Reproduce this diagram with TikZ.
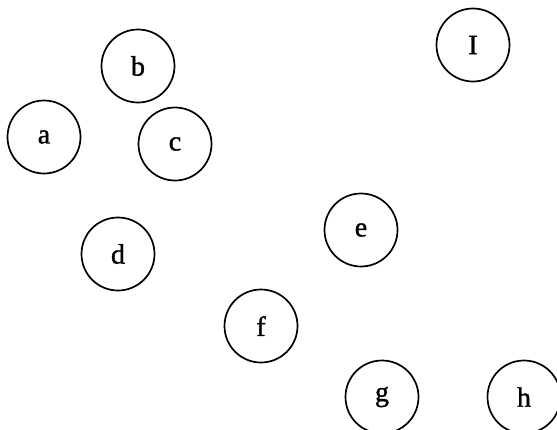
\documentclass[tikz,border=0pt]{standalone}
\usepackage{fontspec}
\setmainfont{Liberation Serif}
\newfontfamily\lblfont[FakeBold=1.2]{Liberation Serif}
\begin{document}
\begin{tikzpicture}[x=1pt,y=-1pt,
  vtx/.style={circle,draw=black,line width=1.7pt,minimum size=73pt,inner sep=0pt,
    font=\lblfont\fontsize{28}{28}\selectfont}]
\useasboundingbox (0,0) rectangle (557,429);
\node[vtx] (a) at (44,137) {a};
\node[vtx] (b) at (138,66) {b};
\node[vtx] (c) at (175,144) {c};
\node[vtx] (I) at (473,45) {I};
\node[vtx] (d) at (118,254) {d};
\node[vtx] (e) at (361,230) {e};
\node[vtx] (f) at (261,326) {f};
\node[vtx] (g) at (382,397) {g};
\node[vtx] (h) at (524,397) {h};
\end{tikzpicture}
\end{document}
